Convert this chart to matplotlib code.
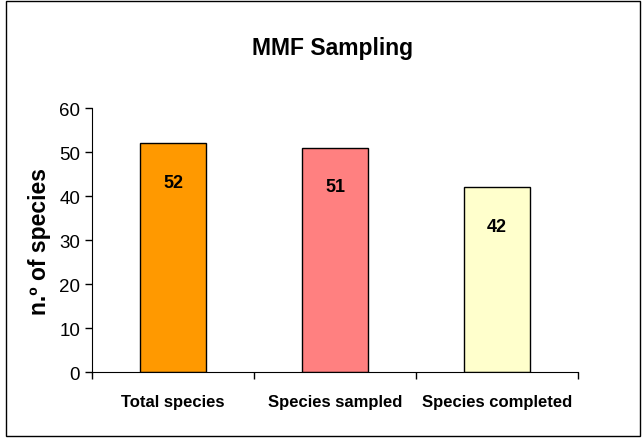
import numpy as np
import matplotlib.pyplot as plt
from matplotlib.patches import Rectangle

plt.rcParams['font.family'] = ['Liberation Sans', 'DejaVu Sans']

categories = ["Total species", "Species sampled", "Species completed"]
values = [52, 51, 42]
colors = ["#FF9900", "#FF8080", "#FFFFCC"]

fig = plt.figure(figsize=(6.44, 4.39), dpi=100)
ax = fig.add_axes([0.1429, 0.1503, 0.7547, 0.6014])

x = np.arange(len(categories))
bars = ax.bar(x, values, width=0.41, color=colors, edgecolor="black", linewidth=1)

for b, v in zip(bars, values):
    ax.annotate(str(v), (b.get_x() + b.get_width() / 2, v), xytext=(0, -28),
                textcoords="offset points", ha="center", va="center",
                fontsize=13, fontweight="bold")

ax.set_xlim(-0.5, len(categories) - 0.5)
ax.set_ylim(0, 60)
ax.set_yticks(range(0, 61, 10))
ax.set_xticks(x)
ax.set_xticklabels(categories, fontsize=12, fontweight="bold")
ax.set_xticks(np.arange(-0.5, len(categories), 1), minor=True)
ax.tick_params(axis="x", which="major", length=0, pad=16)
ax.tick_params(axis="x", which="minor", length=5, direction="out", width=1)
ax.tick_params(axis="y", length=5, direction="out", labelsize=13.5, width=1)
for s in ["top", "right"]:
    ax.spines[s].set_visible(False)

ax.set_ylabel("n.º of species", fontsize=16.5, fontweight="bold", labelpad=6)
fig.text(0.517, 0.89, "MMF Sampling", ha="center", va="center",
         fontsize=16.5, fontweight="bold")

fig.patches.append(Rectangle((0.009, 0.005), 0.985, 0.99, transform=fig.transFigure,
                             fill=False, edgecolor="black", linewidth=1))

plt.savefig("out.png", dpi=100)
